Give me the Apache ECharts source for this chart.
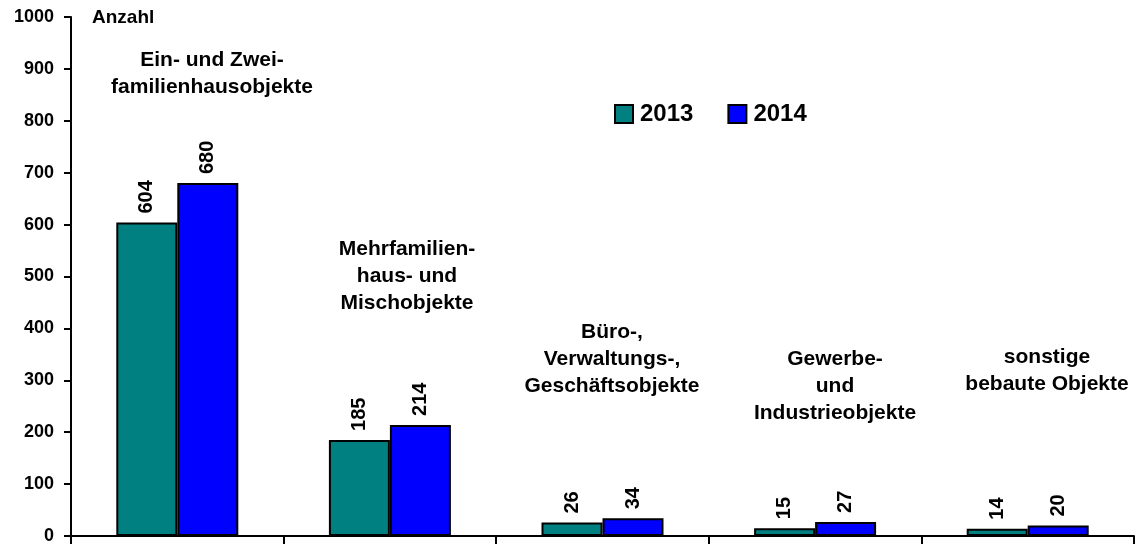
<!DOCTYPE html>
<html>
<head>
<meta charset="utf-8">
<script src="https://cdn.jsdelivr.net/npm/echarts@6/dist/echarts.min.js"></script>
<style>
  html, body { margin: 0; padding: 0; background: #fff; }
  #chart { width: 1137px; height: 545px; }
</style>
</head>
<body>
<div id="chart"></div>
<script>
// Kategorien (Objektarten)
const categories = [
  'Ein- und Zwei-\nfamilienhausobjekte',
  'Mehrfamilien-\nhaus- und\nMischobjekte',
  'Büro-,\nVerwaltungs-,\nGeschäftsobjekte',
  'Gewerbe-\nund\nIndustrieobjekte',
  'sonstige\nbebaute Objekte'
]
const values2013 = [604, 185, 26, 15, 14]
const values2014 = [680, 214, 34, 27, 20]
const yTicks = [0, 100, 200, 300, 400, 500, 600, 700, 800, 900, 1000]

// Lage der Kategorietexte im Diagramm (Pixel)
const catLabelPos = [
  { x: 212, y: 47 },
  { x: 407, y: 236 },
  { x: 612, y: 319 },
  { x: 835, y: 346 },
  { x: 1047, y: 344 }
]

const font = '"Liberation Sans", Arial, sans-serif'
const chart = echarts.init(document.getElementById('chart'))

const valueLabel = {
  show: true,
  position: 'top',
  distance: 9,
  rotate: 90,
  align: 'left',
  verticalAlign: 'middle',
  color: '#000',
  fontWeight: 'bold',
  fontSize: 20,
  fontFamily: font
}

// Texte im Diagramm: Achsentitel + Kategorienamen
const texts = [{
  type: 'text',
  x: 92,
  y: 8,
  style: { text: 'Anzahl', fill: '#000', font: 'bold 19px ' + font, align: 'left', verticalAlign: 'top' }
}].concat(categories.map((c, i) => ({
  type: 'text',
  x: catLabelPos[i].x,
  y: catLabelPos[i].y,
  style: {
    text: c,
    fill: '#000',
    font: 'bold 21px ' + font,
    align: 'center',
    verticalAlign: 'top',
    lineHeight: 27
  }
})))

const option = {
  animation: false,
  backgroundColor: '#fff',
  textStyle: { fontFamily: font },
  grid: { left: 71, right: 3, top: 17, bottom: 9, containLabel: false },
  legend: {
    data: ['2013', '2014'],
    left: 609,
    top: 97,
    itemWidth: 18,
    itemHeight: 18,
    itemGap: 34,
    icon: 'rect',
    textStyle: { fontSize: 24, fontWeight: 'bold', color: '#000', fontFamily: font, padding: [0, 0, 0, 2] }
  },
  xAxis: {
    type: 'category',
    data: categories,
    axisLine: { lineStyle: { color: '#000', width: 2 } },
    axisTick: { show: true, length: 8, lineStyle: { color: '#000', width: 2 } },
    axisLabel: { show: false }
  },
  yAxis: {
    type: 'value',
    min: yTicks[0],
    max: yTicks[yTicks.length - 1],
    interval: 100,
    axisLine: { show: true, lineStyle: { color: '#000', width: 2 } },
    axisTick: { show: true, length: 7, lineStyle: { color: '#000', width: 2 } },
    axisLabel: {
      color: '#000', fontWeight: 'bold', fontSize: 18, margin: 17, fontFamily: font,
      formatter: v => String(v)
    },
    splitLine: { show: false }
  },
  series: [
    {
      name: '2013',
      type: 'bar',
      data: values2013,
      barWidth: 61,
      barGap: '0%',
      itemStyle: { color: '#008080', borderColor: '#000', borderWidth: 2 },
      label: valueLabel
    },
    {
      name: '2014',
      type: 'bar',
      data: values2014,
      barWidth: 61,
      itemStyle: { color: '#0000ff', borderColor: '#000', borderWidth: 2 },
      label: valueLabel
    }
  ],
  graphic: texts
}

chart.setOption(option)
</script>
</body>
</html>
